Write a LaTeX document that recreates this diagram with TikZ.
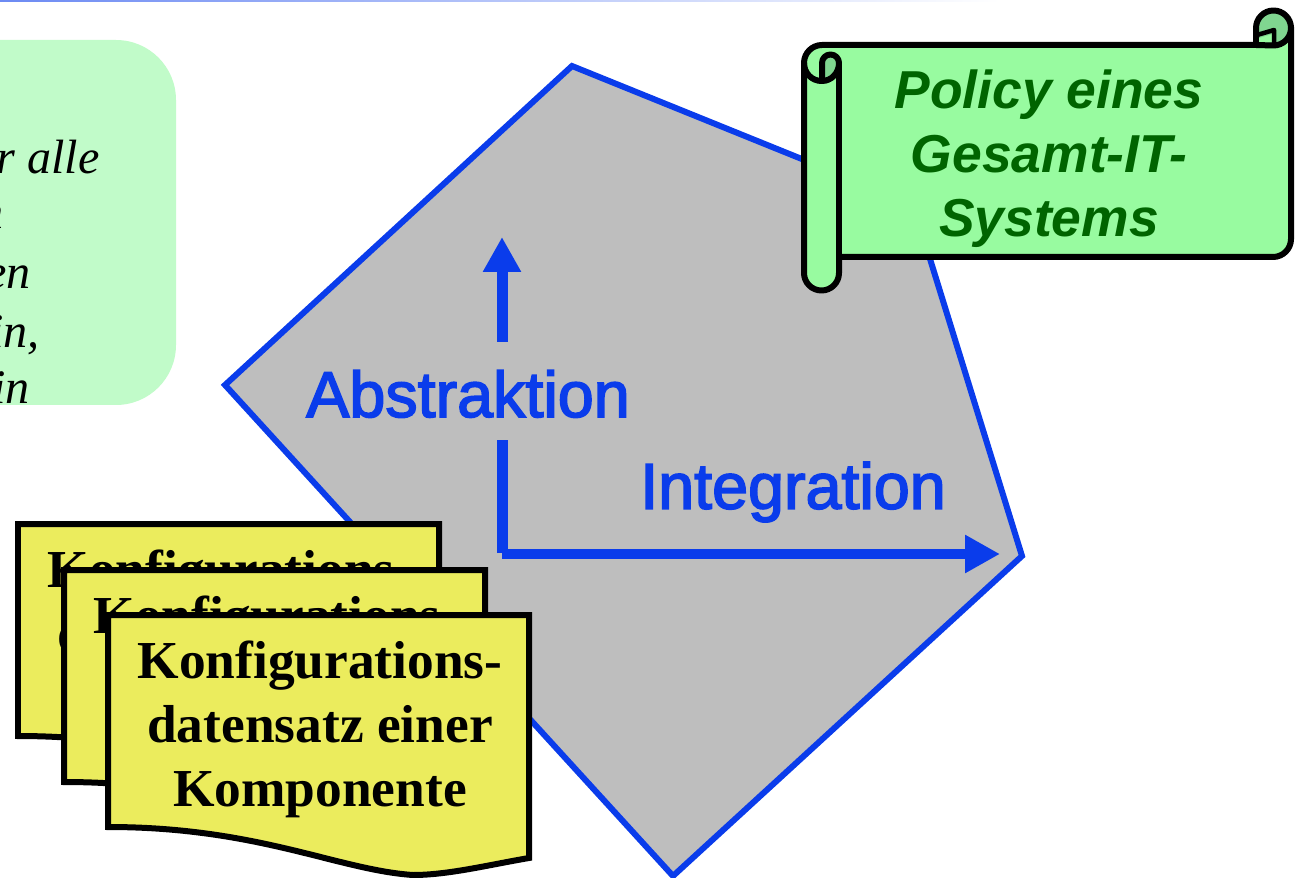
\documentclass[tikz,border=0pt]{standalone}
\usepackage{fontspec}
\usetikzlibrary{arrows.meta}
\setmainfont{Liberation Serif}
\setsansfont{Liberation Sans}
\newfontfamily\flowfont[FakeBold=2.5]{Liberation Sans}
\tikzset{
    x=0.02cm, y=-0.02cm,
    hintline/.style={anchor=base east, inner sep=0pt, font=\fontsize{27.4}{27.4}\selectfont\itshape},
    docsheet/.style={draw=black, line width=0.12cm, fill=docyellow, miter limit=10},
    doctext/.style={align=center, inner sep=0pt, font=\fontsize{30.4}{36.4}\selectfont\bfseries},
    scrollline/.style={draw=black, line width=0.12cm, line join=round},
    flowlabel/.style={inner sep=0pt, text=flowblue, font=\flowfont\fontsize{36.8}{36.8}\selectfont},
    flowarrow/.style={-{Triangle[length=0.7cm,width=0.72cm]}, flowblue},
}
\definecolor{hintgreen}{RGB}{193,251,201}
\definecolor{docyellow}{RGB}{235,236,93}
\definecolor{flowblue}{RGB}{10,60,235}
\definecolor{polygray}{RGB}{190,190,190}
\definecolor{scrollgreen}{RGB}{152,251,160}
\definecolor{scrolldark}{RGB}{128,214,144}
\definecolor{policygreen}{RGB}{0,100,0}
\newcommand{\docshape}[2]{% sheet with wavy bottom
    \draw [docsheet, shift={(#1,#2)}] (0,0) -- (421,0) -- (421,243)
        .. controls (380,250) and (340,260) .. (305,260)
        .. controls (230,255) and (150,212) .. (0,212) -- cycle;
}
\begin{document}
\begin{tikzpicture}
    \useasboundingbox (0,0) rectangle (1295,878);
    \clip (0,0) rectangle (1295,878);
    \shade [left color=flowblue!60, right color=white] (0,0) rectangle (1000,1.5);
    % hint box, cut by the page
    \fill [hintgreen, rounded corners=1.2cm] (-100,40) rectangle (176,405);
    \node [hintline] (hint1) at (100,174) {r alle};
    \node [hintline] (hint2) at (4,229) {n};
    \node [hintline] (hint3) at (31,289) {en};
    \node [hintline] (hint4) at (40,348) {in,};
    \node [hintline] (hint5) at (30,404) {in};
    % polygon
    \draw [draw=flowblue, line width=0.12cm, fill=polygray]
        (572,66) -- (913,204) -- (1022,556) -- (673,876) -- (225,385) -- cycle;
    % axes
    \coordinate (origin) at (502,553);
    \coordinate (abstip) at (502,237);
    \coordinate (intstart) at (502,554);
    \coordinate (inttip) at (1000,554);
    \draw [flowarrow, line width=0.22cm] (origin) -- (abstip);
    \draw [flowarrow, line width=0.2cm] (intstart) -- (inttip);
    \node [flowlabel, fill=polygray, text height=42.7pt, text depth=13pt, anchor=base] (abstraktion) at (468,417) {Abstraktion};
    \node [flowlabel] (integration) at (793,492) {Integration};
    % scroll
    \draw [scrollline, fill=scrollgreen]
        (804,273) -- (804,63) arc (-180:-90:18) -- (1273,45) arc (90:0:18) -- (1291,239)
        arc (0:90:18) -- (839,257) -- (839,273) arc (0:180:17.5) -- cycle;
    \draw [scrollline, fill=scrolldark] (1256,45) -- (1256,28) arc (-180:0:17.5) arc (0:90:17.5) -- cycle;
    \fill [scrollgreen] (1259,38) -- (1273,34) -- (1273,42) -- (1259,42) -- cycle;
    \draw [scrollline, line width=0.09cm] (1257,35) -- (1274,30) -- (1274,44);
    \draw [scrollline] (839,257) -- (839,63);
    \draw [scrollline] (804,63) arc (180:90:17.5 and 18) -- (822,81);
    \filldraw [scrollline, fill=scrolldark]
        (822,81) -- (822,63) arc (-180:0:8.5) arc (0:90:17 and 18) -- cycle;
    \node [align=center, inner sep=0pt, text=policygreen, font=\sffamily\fontsize{30.4}{36.4}\selectfont\bfseries\itshape] (policy) at (1049,159) {Policy eines\\Gesamt-IT-\\Systems};
    % sheets
    \docshape{18}{524}
    \node [doctext] (doc1) at (230,638) {Konfigurations-\\datensatz einer\\Komponente};
    \docshape{64}{570}
    \node [doctext] (doc2) at (276,684) {Konfigurations-\\datensatz einer\\Komponente};
    \docshape{108}{615}
    \node [doctext] (doc3) at (320,729) {Konfigurations-\\datensatz einer\\Komponente};
\end{tikzpicture}
\end{document}
